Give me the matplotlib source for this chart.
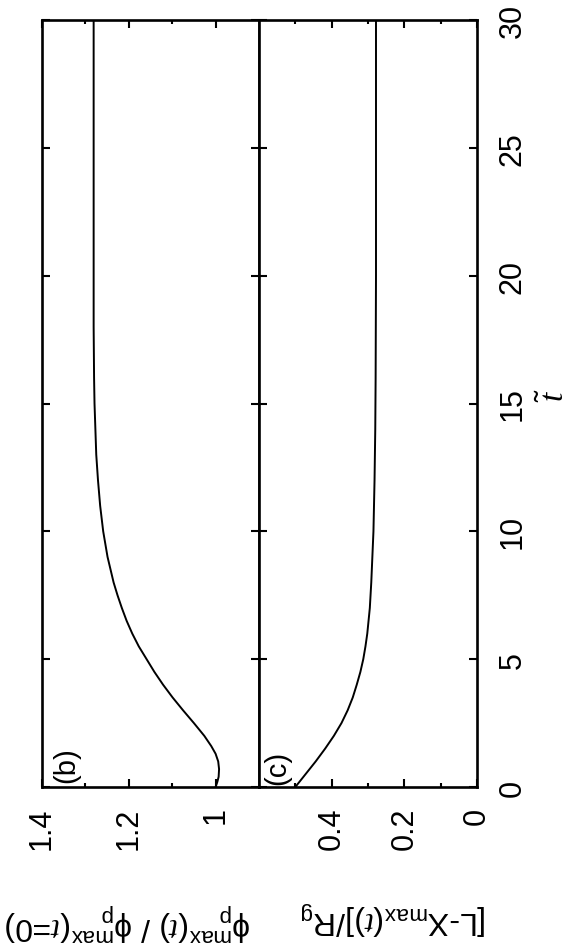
import numpy as np
import matplotlib
matplotlib.use('Agg')
import matplotlib.pyplot as plt

# time axis for panel (b)
t_b = [0, 0.2, 0.4, 0.7, 1.0, 1.3, 1.6, 2.0, 2.5, 3.0, 3.5, 4.0, 4.5, 5.0,
       5.5, 6.0, 6.5, 7.0, 7.5, 8.0, 9.0, 10, 11, 12, 13, 14, 15, 16, 18,
       20, 25, 30]
# panel (b): phi_p^max(t) / phi_p^max(t=0)
phi_ratio = [1.000, 0.996, 0.993, 0.992, 0.994, 1.000, 1.010, 1.026, 1.050,
             1.075, 1.099, 1.121, 1.141, 1.159, 1.177, 1.192, 1.205, 1.216,
             1.226, 1.235, 1.249, 1.259, 1.266, 1.271, 1.275, 1.277, 1.279,
             1.280, 1.281, 1.281, 1.281, 1.281]

# time axis for panel (c)
t_c = [0, 0.25, 0.5, 0.75, 1.0, 1.5, 2.0, 2.5, 3.0, 3.5, 4.0, 4.5, 5.0,
       5.5, 6.0, 7.0, 8.0, 9.0, 10, 12, 14, 16, 20, 25, 30]
# panel (c): [L - X_max(t)] / R_g
dist_ratio = [0.500, 0.486, 0.472, 0.458, 0.444, 0.418, 0.394, 0.373, 0.356,
              0.342, 0.331, 0.321, 0.313, 0.307, 0.302, 0.295, 0.291, 0.288,
              0.285, 0.282, 0.280, 0.279, 0.278, 0.278, 0.278]

t_ticks = [0, 5, 10, 15, 20, 25, 30]
b_ticks = [1.0, 1.2, 1.4]
b_labels = ['1', '1.2', '1.4']
c_ticks = [0, 0.2, 0.4]
c_labels = ['0', '0.2', '0.4']

plt.rcParams['font.family'] = ['Liberation Sans', 'DejaVu Sans']
plt.rcParams['mathtext.fontset'] = 'custom'
plt.rcParams['mathtext.rm'] = 'Liberation Sans'
plt.rcParams['mathtext.it'] = 'Liberation Serif:italic'
plt.rcParams['mathtext.default'] = 'regular'

W, H = 571, 945
fig = plt.figure(figsize=(W / 100, H / 100), dpi=100)
ax_b = fig.add_axes([42 / W, 1 - 788 / H, 217 / W, 767 / H])
ax_c = fig.add_axes([259 / W, 1 - 788 / H, 218 / W, 767 / H])

ax_b.plot(phi_ratio, t_b, color='black', lw=1.4)
ax_c.plot(dist_ratio, t_c, color='black', lw=1.4)

ax_b.set_xlim(1.4, 0.9)
ax_c.set_xlim(0.6, 0.0)

for ax in (ax_b, ax_c):
    ax.set_ylim(0, 30)
    ax.set_yticks(t_ticks)
    for sp in ax.spines.values():
        sp.set_linewidth(1.9)
    ax.tick_params(which='both', direction='in', top=True, bottom=True,
                   left=True, right=True, width=1.5)
    ax.tick_params(which='major', length=6)
    ax.tick_params(which='minor', length=3)
    ax.tick_params(axis='x', labelsize=22, pad=14)

ax_b.set_xticks(b_ticks, b_labels, rotation=90)
ax_b.set_xticks([1.1, 1.3], minor=True)
ax_b.tick_params(axis='y', labelleft=False, labelright=False)

ax_c.set_xticks(c_ticks, c_labels, rotation=90)
ax_c.set_xticks([0.1, 0.3, 0.5], minor=True)
ax_c.tick_params(axis='y', labelleft=False, labelright=True, labelsize=22, pad=15)
ax_c.set_yticks(t_ticks, [str(v) for v in t_ticks], rotation=90, va='center')

ax_b.text(0.046, 0.006, '(b)', transform=ax_b.transAxes, rotation=90,
          ha='left', va='bottom', fontsize=21)
ax_c.text(0.018, 0.004, '(c)', transform=ax_c.transAxes, rotation=90,
          ha='left', va='bottom', fontsize=21)

fig.text(555 / W, 1 - 395 / H, r'$\tilde{\mathit{t}}$', rotation=90,
         ha='center', va='center', fontsize=24)
fig.text(128 / W, 1 - 922 / H,
         r'$\phi_p^{max}(\mathit{t})$ / $\phi_p^{max}(\mathit{t}$=0)',
         rotation=180, ha='center', va='center', fontsize=23)
fig.text(394 / W, 1 - 918 / H, r'[L-X$_{max}(\mathit{t})$]/R$_g$',
         rotation=180, ha='center', va='center', fontsize=23)

fig.savefig('out.png', dpi=100)
